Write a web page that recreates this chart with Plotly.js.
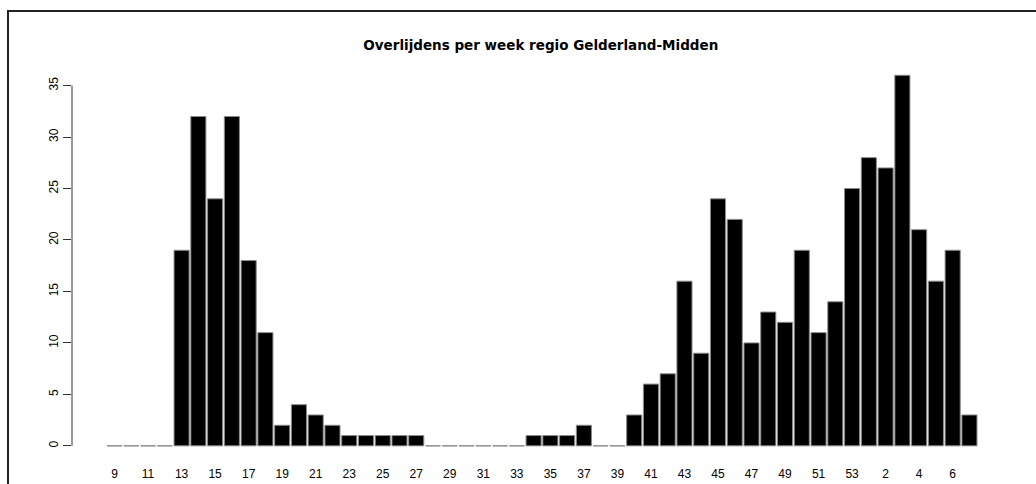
<!DOCTYPE html>
<html><head><meta charset="utf-8">
<script src="https://cdn.plot.ly/plotly-3.0.1.min.js"></script>
<style>
html,body{margin:0;padding:0;background:#fff;overflow:hidden;}
#frame{position:absolute;left:7px;top:10px;width:1040px;height:490px;border:2px solid #222;box-sizing:border-box;pointer-events:none;}
#chart{position:absolute;left:0;top:0;width:1036px;height:484px;}
</style></head>
<body>
<div id="chart"></div>
<div id="frame"></div>
<script>
const weeks = [9,10,11,12,13,14,15,16,17,18,19,20,21,22,23,24,25,26,27,28,29,30,31,32,33,34,35,36,37,38,39,40,41,42,43,44,45,46,47,48,49,50,51,52,53,1,2,3,4,5,6,7];
const deaths = [0,0,0,0,19,32,24,32,18,11,2,4,3,2,1,1,1,1,1,0,0,0,0,0,0,1,1,1,2,0,0,3,6,7,16,9,24,22,10,13,12,19,11,14,25,28,27,36,21,16,19,3];
const yTicks = [0,5,10,15,20,25,30,35];

const idx = weeks.map((w,i)=>i);
const tickIdx = idx.filter(i=>i%2===0);
const tickText = tickIdx.map(i=>String(weeks[i]));

const trace = {
  type:'bar', x: idx, y: deaths,
  marker:{color:'#000', line:{color:'#8a8a8a', width:1}},
  hoverinfo:'skip'
};
const layout = {
  width:1036, height:484,
  margin:{l:72, r:36, t:65, b:33, pad:0},
  paper_bgcolor:'#fff', plot_bgcolor:'#fff',
  bargap:0.1,
  showlegend:false,
  title:{text:'Overlijdens per week regio Gelderland-Midden', x:0.522, xanchor:'center', y:0.907, yanchor:'middle',
         font:{family:'DejaVu Sans, Verdana, sans-serif', size:13.5, color:'#000', weight:'bold'}},
  xaxis:{range:[-2.538, 52.824], showgrid:false, zeroline:false, showline:false,
         tickmode:'array', tickvals:tickIdx, ticktext:tickText, ticks:'', ticklabelstandoff:14,
         tickfont:{family:'Liberation Sans, Arial, sans-serif', size:12, color:'#000'}, fixedrange:true},
  yaxis:{range:[-0.5, 37], showgrid:false, zeroline:false, showline:false,
         tickmode:'array', tickvals:yTicks, ticktext:yTicks.map(String),
         ticks:'outside', ticklen:8, tickcolor:'#333', tickwidth:1, tickangle:-90, ticklabelstandoff:0,
         tickfont:{family:'Liberation Sans, Arial, sans-serif', size:12, color:'#000'}, fixedrange:true},
  shapes:[{type:'line', xref:'paper', x0:0, x1:0, yref:'y', y0:0, y1:35, line:{color:'#333', width:1}}]
};
Plotly.newPlot('chart',[trace],layout,{displayModeBar:false, staticPlot:true});
</script>
</body></html>
